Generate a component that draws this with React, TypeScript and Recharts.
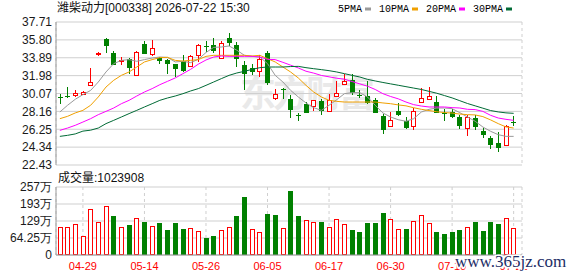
import React from 'react';
import { ComposedChart, Bar, Line, XAxis, YAxis, CartesianGrid } from 'recharts';

const dates = [
  '04-24', '04-27', '04-28', '04-29', '04-30', '05-06', '05-07', '05-08', '05-11', '05-12',
  '05-13', '05-14', '05-15', '05-18', '05-19', '05-20', '05-21', '05-22', '05-25', '05-26',
  '05-27', '05-28', '05-29', '06-01', '06-02', '06-03', '06-04', '06-05', '06-08', '06-09',
  '06-10', '06-11', '06-12', '06-15', '06-16', '06-17', '06-18', '06-22', '06-23', '06-24',
  '06-25', '06-26', '06-29', '06-30', '07-01', '07-02', '07-03', '07-06', '07-07', '07-08',
  '07-09', '07-10', '07-13', '07-14', '07-15', '07-16', '07-17', '07-20', '07-21', '07-22',
];

const opens = [
  29.70, 29.76, 29.87, 30.05, 31.01, 34.29, 35.86, 34.40, 33.51, 33.79,
  32.08, 35.32, 34.33, 33.86, 33.69, 33.19, 33.51, 32.97, 34.15, 35.15,
  35.29, 33.86, 36.04, 35.22, 33.15, 32.80, 32.44, 34.40, 29.62, 30.55,
  29.52, 27.74, 28.91, 28.70, 29.27, 28.16, 29.77, 31.12, 31.55, 29.91,
  29.80, 29.41, 27.65, 26.65, 28.15, 27.08, 26.55, 29.13, 29.45, 29.15,
  28.02, 28.11, 27.54, 26.37, 27.44, 26.06, 25.31, 24.78, 24.60, 27.06,
];

const closes = [
  29.63, 29.70, 30.12, 30.23, 31.26, 34.36, 35.15, 33.15, 33.69, 32.83,
  34.47, 34.33, 34.93, 33.51, 33.26, 32.69, 32.44, 34.08, 35.22, 35.04,
  34.61, 35.45, 35.50, 33.79, 32.19, 32.37, 33.79, 31.19, 29.98, 30.48,
  28.27, 27.63, 28.02, 29.34, 28.16, 29.34, 30.12, 31.41, 30.12, 29.77,
  29.06, 28.02, 26.20, 27.25, 27.80, 26.37, 28.18, 29.57, 29.80, 28.02,
  27.85, 27.58, 26.60, 27.58, 26.54, 25.66, 24.60, 24.28, 26.56, 26.93,
];

const highs = [
  30.05, 30.76, 30.41, 30.34, 32.79, 34.50, 36.04, 34.65, 33.97, 33.86,
  34.58, 35.64, 35.75, 34.01, 33.79, 33.26, 34.15, 34.15, 35.32, 35.68,
  36.00, 35.64, 36.53, 35.57, 33.51, 33.26, 34.15, 34.58, 30.59, 30.69,
  29.87, 28.02, 29.16, 29.38, 29.52, 30.05, 31.37, 32.19, 32.19, 30.41,
  31.37, 29.59, 27.92, 28.09, 29.06, 27.56, 28.52, 30.64, 30.78, 29.80,
  28.38, 28.45, 27.74, 27.76, 27.81, 26.38, 25.49, 25.96, 26.67, 27.65,
];

const lows = [
  28.98, 29.59, 29.70, 29.94, 30.94, 34.11, 34.43, 33.08, 33.15, 32.19,
  31.90, 34.29, 34.04, 33.26, 32.19, 31.83, 32.37, 32.90, 33.44, 34.50,
  34.43, 33.79, 35.15, 32.90, 30.41, 32.01, 31.83, 31.01, 29.41, 29.52,
  27.49, 27.10, 27.99, 28.16, 27.81, 28.09, 29.66, 30.94, 29.95, 29.59,
  28.98, 27.95, 25.78, 26.56, 27.63, 26.24, 26.21, 29.09, 29.41, 27.99,
  27.10, 27.45, 26.31, 25.50, 26.21, 25.31, 24.10, 23.82, 24.42, 26.65,
];

const ma5 = [
  28.09, 28.81, 29.45, 29.95, 30.40, 31.30, 32.37, 33.26, 33.61, 33.69,
  33.51, 33.69, 33.86, 33.97, 33.93, 33.44, 33.51, 33.37, 33.72, 34.45,
  35.00, 35.04, 35.15, 34.70, 34.15, 34.04, 33.97, 33.26, 32.01, 31.30,
  30.41, 29.70, 29.06, 28.56, 28.27, 28.81, 29.41, 30.05, 30.16, 30.16,
  29.70, 28.81, 27.99, 27.56, 27.27, 27.10, 27.38, 28.09, 28.38, 28.52,
  28.52, 28.45, 28.02, 27.56, 27.10, 26.49, 26.03, 25.67, 25.49, 25.49,
];

const ma10 = [
  27.38, 27.63, 27.99, 28.27, 28.81, 29.70, 30.76, 31.48, 32.01, 32.37,
  32.90, 33.44, 33.69, 33.90, 33.93, 33.61, 33.54, 33.61, 33.69, 34.04,
  34.15, 34.15, 34.15, 34.15, 34.15, 34.08, 34.15, 33.79, 33.44, 32.90,
  32.37, 31.73, 30.94, 30.23, 29.70, 29.34, 29.23, 29.16, 29.16, 29.16,
  29.16, 29.16, 29.06, 28.98, 28.85, 28.75, 28.55, 28.38, 28.25, 28.12,
  28.03, 27.98, 27.87, 27.81, 27.78, 27.60, 27.25, 26.85, 26.50, 26.38,
];

const ma20 = [
  26.13, 26.38, 26.67, 27.02, 27.38, 27.81, 28.16, 28.52, 28.98, 29.34,
  29.80, 30.23, 30.59, 31.01, 31.37, 31.73, 32.19, 32.65, 33.20, 33.65,
  33.97, 34.08, 34.04, 34.04, 34.04, 34.04, 33.97, 33.72, 33.69, 33.40,
  33.10, 32.80, 32.45, 32.25, 32.00, 31.85, 31.70, 31.60, 31.35, 31.10,
  30.85, 30.50, 30.05, 29.75, 29.50, 29.16, 28.88, 28.73, 28.63, 28.63,
  28.63, 28.56, 28.52, 28.38, 28.35, 28.16, 27.74, 27.45, 27.31, 27.20,
];

const ma30 = [
  25.49, 25.60, 25.75, 26.05, 26.15, 26.38, 26.85, 27.20, 27.56, 27.92,
  28.27, 28.63, 28.98, 29.34, 29.59, 29.80, 30.05, 30.34, 30.59, 30.94,
  31.30, 31.66, 32.01, 32.26, 32.44, 32.65, 32.83, 32.90, 32.90, 32.90,
  32.95, 32.97, 32.83, 32.72, 32.62, 32.51, 32.37, 32.19, 32.01, 31.83,
  31.58, 31.41, 31.25, 31.10, 30.95, 30.80, 30.65, 30.50, 30.30, 30.10,
  29.85, 29.60, 29.30, 29.00, 28.75, 28.50, 28.25, 28.10, 28.00, 27.95,
];

// volume in 万 shares
const volumes = [
  104.7, 104.7, 116.0, 73.0, 172.7, 123.5, 184.0, 146.0, 104.7, 112.0,
  138.6, 124.7, 108.4, 119.7, 94.5, 119.7, 98.3, 100.8, 89.5, 64.3,
  71.8, 93.2, 104.7, 146.0, 219.2, 97.0, 85.7, 153.7, 151.2, 100.8,
  243.0, 147.4, 132.3, 123.5, 124.7, 104.7, 134.8, 116.0, 94.5, 86.9,
  120.9, 120.9, 158.7, 134.8, 98.3, 98.3, 127.3, 150.0, 119.7, 86.9,
  79.4, 86.9, 94.5, 104.7, 124.7, 90.7, 124.7, 117.2, 138.6, 102.39,
];

const xTicks = ['04-29', '05-14', '05-26', '06-05', '06-17', '06-30', '07-10', '07-22'];
const priceTicks = [22.43, 24.34, 26.25, 28.16, 30.07, 31.98, 33.89, 35.80, 37.71];
const volTicks = [0, 64.25, 128.5, 192.75, 257];
const volTickLabels = ['0', '64.25万', '129万', '193万', '257万'];

const titleText = '潍柴动力[000338] 2026-07-22 15:30';
const volumeLabel = '成交量:1023908';
const legendItems = [
  { key: 'ma5', name: '5PMA', color: '#9a9a9a' },
  { key: 'ma10', name: '10PMA', color: '#f0a000' },
  { key: 'ma20', name: '20PMA', color: '#ff00ff' },
  { key: 'ma30', name: '30PMA', color: '#006a35' },
];

const RED = '#ff0000';
const GREEN = '#008000';
const GRID = '#cfcfcf';
const FRAME = '#999999';

const rows = dates.map((d, i) => ({
  date: d,
  open: opens[i],
  high: highs[i],
  low: lows[i],
  close: closes[i],
  range: [lows[i], highs[i]],
  ma5: ma5[i],
  ma10: ma10[i],
  ma20: ma20[i],
  ma30: ma30[i],
  volume: volumes[i],
  volUp: i === 0 ? true : closes[i] >= closes[i - 1],
}));

const Candle = (props: any) => {
  const { x, y, width, height, payload } = props;
  if (!payload || typeof x !== 'number' || typeof y !== 'number') return <g />;
  const top = Math.min(y, y + height);
  const bottom = Math.max(y, y + height);
  const span = payload.high - payload.low;
  const k = span > 0 ? (bottom - top) / span : 0;
  const toY = (v: number) => top + (payload.high - v) * k;
  const up = payload.close >= payload.open;
  const color = up ? RED : GREEN;
  const cx = Math.round(x + width / 2) + 0.5;
  const yH = Math.round(toY(payload.high));
  const yL = Math.round(toY(payload.low));
  const y1 = Math.round(toY(Math.max(payload.open, payload.close)));
  const y2 = Math.round(toY(Math.min(payload.open, payload.close)));
  if (up) {
    const h = Math.max(y2 - y1, 1);
    return (
      <g>
        <line x1={cx} x2={cx} y1={yH} y2={y1} stroke={color} strokeWidth={1} />
        <line x1={cx} x2={cx} y1={y1 + h} y2={yL} stroke={color} strokeWidth={1} />
        <rect x={cx - 2} y={y1 + 0.5} width={4} height={h} fill="#ffffff" stroke={color} strokeWidth={1} />
      </g>
    );
  }
  return (
    <g>
      <line x1={cx} x2={cx} y1={yH} y2={yL} stroke={color} strokeWidth={1} />
      <rect x={cx - 2.5} y={y1} width={5} height={Math.max(y2 - y1, 1)} fill={color} />
    </g>
  );
};

const VolBar = (props: any) => {
  const { x, y, width, height, payload } = props;
  if (!payload || typeof x !== 'number' || typeof y !== 'number') return <g />;
  const cx = Math.round(x + width / 2) + 0.5;
  const t = Math.round(Math.min(y, y + height));
  const b = Math.round(Math.max(y, y + height));
  if (payload.volUp) {
    return <rect x={cx - 2} y={t + 0.5} width={4} height={Math.max(b - t - 1, 1)} fill="#ffffff" stroke={RED} strokeWidth={1} />;
  }
  return <rect x={cx - 2.5} y={t} width={5} height={b - t} fill={GREEN} />;
};

const axisFont = { fontSize: 12, fill: '#1a1a1a', fontFamily: '"Liberation Sans", Arial, sans-serif' };

export default function App() {
  let lx = 338;
  const legendEls = legendItems.map((it) => {
    const tx = lx;
    const tw = it.name.length * 6;
    const sx = tx + tw + 3;
    lx = sx + 6 + 8;
    return (
      <g key={it.key}>
        <text x={tx} y={12} fontSize={10} fontFamily='"Liberation Mono", monospace' fill="#000">{it.name}</text>
        <rect x={sx} y={7.5} width={6} height={3} fill={it.color} />
      </g>
    );
  });

  return (
    <div style={{ position: 'fixed', left: 0, top: 0, width: 578, height: 276, background: '#ffffff', overflow: 'hidden' }}>
      <svg width={578} height={276} style={{ position: 'absolute', left: 0, top: 0 }}>
        <text x={240} y={107} fontSize={36} letterSpacing={-3} fontWeight={700} fontFamily='"Noto Sans CJK SC", sans-serif' fill="#e9e9e9">东方财富</text>
      </svg>
      <div style={{ position: 'absolute', left: 0, top: 0 }}>
        <ComposedChart width={578} height={176} data={rows} margin={{ top: 22, right: 56, bottom: 11, left: 0 }}>
          <CartesianGrid vertical={false} stroke={GRID} />
          <CartesianGrid horizontal={false} stroke={GRID} strokeDasharray="3 3" />
          <XAxis dataKey="date" ticks={xTicks} interval={0} tick={false} tickLine={false} height={0} axisLine={{ stroke: FRAME }} padding={{ left: 0, right: 4.5 }} />
          <XAxis xAxisId="top" orientation="top" dataKey="date" tick={false} tickLine={false} height={0} axisLine={{ stroke: FRAME }} padding={{ left: 0, right: 4.5 }} />
          <YAxis
            domain={[22.43, 37.71]}
            ticks={priceTicks}
            interval={0}
            allowDataOverflow
            width={56}
            tickLine={false}
            tickSize={2}
            tickMargin={2}
            axisLine={{ stroke: FRAME }}
            tick={axisFont}
            tickFormatter={(v: number) => v.toFixed(2)}
          />
          <YAxis yAxisId="r" orientation="right" domain={[22.43, 37.71]} width={0} tick={false} tickLine={false} axisLine={{ stroke: FRAME }} />
          <Bar dataKey="range" shape={Candle} barSize={5} isAnimationActive={false} legendType="none" />
          {legendItems.map((it) => (
            <Line key={it.key} type="linear" dataKey={it.key} name={it.name} stroke={it.color} strokeWidth={1} dot={false} activeDot={false} isAnimationActive={false} />
          ))}
        </ComposedChart>
      </div>
      <div style={{ position: 'absolute', left: 0, top: 172 }}>
        <ComposedChart width={578} height={104} data={rows} margin={{ top: 15, right: 56, bottom: 0, left: 0 }}>
          <CartesianGrid vertical={false} stroke={GRID} />
          <CartesianGrid horizontal={false} stroke={GRID} strokeDasharray="3 3" />
          <XAxis
            dataKey="date"
            ticks={xTicks}
            interval={0}
            tickLine={false}
            tickSize={5}
            tickMargin={2}
            height={21}
            axisLine={{ stroke: FRAME }}
            tick={{ fontSize: 11, fill: RED, fontFamily: '"Liberation Sans", Arial, sans-serif' }}
            padding={{ left: 0, right: 4.5 }}
          />
          <XAxis xAxisId="top" orientation="top" dataKey="date" tick={false} tickLine={false} height={0} axisLine={{ stroke: FRAME }} padding={{ left: 0, right: 4.5 }} />
          <YAxis
            domain={[0, 257]}
            ticks={volTicks}
            interval={0}
            allowDataOverflow
            width={56}
            tickLine={false}
            tickSize={2}
            tickMargin={2}
            axisLine={{ stroke: FRAME }}
            tick={axisFont}
            tickFormatter={(v: number) => volTickLabels[volTicks.indexOf(v)] ?? String(v)}
          />
          <YAxis yAxisId="r" orientation="right" domain={[0, 257]} width={0} tick={false} tickLine={false} axisLine={{ stroke: FRAME }} />
          <Bar dataKey="volume" shape={VolBar} barSize={5} isAnimationActive={false} />
        </ComposedChart>
      </div>
      <svg width={578} height={276} style={{ position: 'absolute', left: 0, top: 0, pointerEvents: 'none' }}>
        <text x={57} y={12} fontSize={12} fontFamily='"Liberation Sans", "Noto Sans CJK SC", sans-serif' fill="#111">{titleText}</text>
        {legendEls}
        <text x={58} y={182} fontSize={12} fontFamily='"Liberation Sans", "Noto Sans CJK SC", sans-serif' fill="#111">{volumeLabel}</text>
        <text x={455} y={267} fontSize={17} fontFamily='"Liberation Serif", serif' fill="#1d2d66" stroke="#ffffff" strokeWidth={3} paintOrder="stroke">www.365jz.com</text>
      </svg>
    </div>
  );
}
